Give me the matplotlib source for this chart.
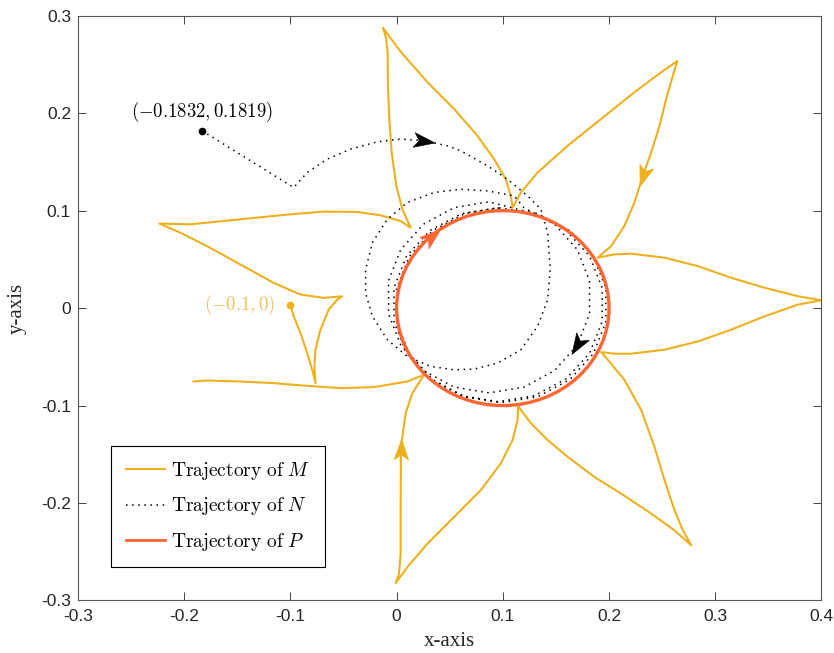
import numpy as np
import matplotlib
matplotlib.use("Agg")
import matplotlib.pyplot as plt
from matplotlib.path import Path
from matplotlib.markers import MarkerStyle
from matplotlib.transforms import Affine2D
from matplotlib.patches import Circle
from matplotlib.lines import Line2D

plt.rcParams['mathtext.fontset'] = 'cm'

# ---- data ----
# trajectory of M (one line per petal edge)
M_x = [-0.1000, -0.0969, -0.0906, -0.0842, -0.0795, -0.0764,
       -0.0774, -0.0764, -0.0717, -0.0639, -0.0559, -0.0512,
       -0.0686, -0.0906, -0.1158, -0.1472, -0.1786, -0.2038, -0.2233,
       -0.1943, -0.1472, -0.1000, -0.0686, -0.0371, -0.0151, 0.0038, 0.0132,
       0.0054, -0.0003, -0.0047, -0.0069, -0.0082, -0.0085, -0.0101, -0.0129,
       0.0038, 0.0290, 0.0541, 0.0761, 0.0918, 0.1028, 0.1075, 0.1092,
       0.1170, 0.1327, 0.1610, 0.1925, 0.2239, 0.2491, 0.2642,
       0.2601, 0.2538, 0.2475, 0.2396, 0.2318, 0.2239, 0.2144, 0.2019, 0.1893,
       0.2050, 0.2208, 0.2522, 0.2837, 0.3151, 0.3465, 0.3780, 0.4000,
       0.3780, 0.3465, 0.3151, 0.2837, 0.2522, 0.2208, 0.2050, 0.1925,
       0.1988, 0.2144, 0.2302, 0.2427, 0.2522, 0.2616, 0.2695, 0.2774,
       0.2616, 0.2396, 0.2113, 0.1861, 0.1610, 0.1422, 0.1264, 0.1170, 0.1144,
       0.1139, 0.1092, 0.0981, 0.0792, 0.0541, 0.0290, 0.0101, -0.0009,
       0.0022, 0.0038, 0.0038, 0.0040, 0.0054, 0.0085, 0.0148, 0.0258,
       0.0101, -0.0214, -0.0528, -0.0842, -0.1158, -0.1472, -0.1786, -0.1912]
M_y = [0.0030, -0.0084, -0.0255, -0.0461, -0.0633, -0.0770,
       -0.0599, -0.0427, -0.0221, -0.0015, 0.0087, 0.0121,
       0.0105, 0.0139, 0.0259, 0.0448, 0.0636, 0.0774, 0.0867,
       0.0859, 0.0911, 0.0962, 0.0990, 0.0986, 0.0952, 0.0893, 0.0825,
       0.1014, 0.1253, 0.1597, 0.1940, 0.2283, 0.2626, 0.2781, 0.2876,
       0.2630, 0.2318, 0.2043, 0.1768, 0.1528, 0.1322, 0.1151, 0.1031,
       0.1186, 0.1391, 0.1665, 0.1940, 0.2215, 0.2420, 0.2534,
       0.2386, 0.2146, 0.1871, 0.1597, 0.1356, 0.1083, 0.0842, 0.0636, 0.0517,
       0.0551, 0.0558, 0.0517, 0.0430, 0.0311, 0.0208, 0.0121, 0.0080,
       0.0036, -0.0084, -0.0221, -0.0342, -0.0427, -0.0468, -0.0468, -0.0451,
       -0.0530, -0.0736, -0.1045, -0.1422, -0.1765, -0.2074, -0.2280, -0.2434,
       -0.2280, -0.2108, -0.1903, -0.1732, -0.1526, -0.1354, -0.1181, -0.1045, -0.1000,
       -0.1147, -0.1353, -0.1593, -0.1868, -0.2143, -0.2417, -0.2657, -0.2822,
       -0.2725, -0.2519, -0.2074, -0.1450, -0.1319, -0.1079, -0.0873, -0.0684,
       -0.0753, -0.0811, -0.0821, -0.0798, -0.0770, -0.0753, -0.0743, -0.0753]

# trajectory of N: straight start, big arc, then loops closing in on P
N_x = [-0.1832, -0.0969,
       -0.0842, -0.0654, -0.0434, -0.0182, 0.0038, 0.0258, 0.0478, 0.0604,
       0.0856, 0.1044, 0.1233, 0.1358, 0.1422,
       0.1446, 0.1422, 0.1327, 0.1170, 0.0950, 0.0729, 0.0541, 0.0321, 0.0101,
       -0.0088, -0.0229, -0.0292, -0.0292, -0.0229, -0.0088, 0.0101, 0.0352,
       0.0604, 0.0856, 0.1107,
       0.1198, 0.1487, 0.1701, 0.1816, 0.1816, 0.1701, 0.1487, 0.1198, 0.0870,
       0.0542, 0.0253, 0.0039, -0.0076, -0.0076, 0.0039, 0.0253, 0.0542, 0.0870,
       0.1295, 0.1595, 0.1817, 0.1935, 0.1935, 0.1817, 0.1595, 0.1295, 0.0955,
       0.0615, 0.0315, 0.0093, -0.0025, -0.0025, 0.0093, 0.0315, 0.0615, 0.0955,
       0.1327, 0.1628, 0.1851, 0.1970, 0.1970, 0.1851, 0.1628, 0.1327, 0.0985,
       0.0643, 0.0342, 0.0119, 0.0000, 0.0000, 0.0119, 0.0342, 0.0643, 0.0985]
N_y = [0.1819, 0.1237,
       0.1391, 0.1528, 0.1631, 0.1706, 0.1734, 0.1717, 0.1665, 0.1614,
       0.1459, 0.1322, 0.1151, 0.1014, 0.0774,
       0.0396, 0.0087, -0.0187, -0.0427, -0.0564, -0.0626, -0.0633, -0.0599, -0.0496,
       -0.0324, -0.0084, 0.0156, 0.0396, 0.0671, 0.0911, 0.1083, 0.1186,
       0.1219, 0.1202, 0.1151,
       0.1031, 0.0861, 0.0600, 0.0281, -0.0061, -0.0380, -0.0641, -0.0811, -0.0870,
       -0.0811, -0.0641, -0.0380, -0.0061, 0.0281, 0.0600, 0.0861, 0.1031, 0.1090,
       0.0970, 0.0797, 0.0533, 0.0208, -0.0138, -0.0463, -0.0727, -0.0900, -0.0960,
       -0.0900, -0.0727, -0.0463, -0.0138, 0.0208, 0.0533, 0.0797, 0.0970, 0.1030,
       0.0970, 0.0796, 0.0530, 0.0204, -0.0144, -0.0470, -0.0736, -0.0910, -0.0970,
       -0.0910, -0.0736, -0.0470, -0.0144, 0.0204, 0.0530, 0.0796, 0.0970, 0.1030]

# trajectory of P: circle
P_center = (0.1, 0.0)
P_radius = 0.1
P_arrow_angle = 132  # degrees, where the arrow sits on the circle

# where the direction arrows sit
M_arrows = [(0.232, 0.137), (0.004, -0.145)]
N_arrows = [(0.026, 0.172), (0.167, -0.046)]

M_start = (-0.1, 0.003)
N_start = (-0.1832, 0.1819)

xticks = [-0.3, -0.2, -0.1, 0, 0.1, 0.2, 0.3, 0.4]
xticklabels = ['-0.3', '-0.2', '-0.1', '0', '0.1', '0.2', '0.3', '0.4']
yticks = [-0.3, -0.2, -0.1, 0, 0.1, 0.2, 0.3]
yticklabels = ['-0.3', '-0.2', '-0.1', '0', '0.1', '0.2', '0.3']

c_M = '#EDB120'
c_P = '#FF6633'

fig = plt.figure(figsize=(8.34, 6.53), dpi=100)
ax = fig.add_axes([0.0935, 0.0804, 0.8915, 0.8956])
ax.set_xlim(-0.3, 0.4)
ax.set_ylim(-0.3, 0.3)

ax.plot(M_x, M_y, color=c_M, lw=1.5, zorder=2, solid_joinstyle='round')
ax.plot(N_x, N_y, color='black', lw=1.1, ls=(0, (1, 3)), zorder=3)
ax.add_patch(Circle(P_center, P_radius, fill=False, ec=c_P, lw=2.4, zorder=4))

# arrowhead marker (notched)
arrow_path = Path([(1, 0), (-1, 0.7), (-0.5, 0), (-1, -0.7), (1, 0)],
                  [Path.MOVETO, Path.LINETO, Path.LINETO, Path.LINETO, Path.CLOSEPOLY])


def draw_arrow(pos, direction, color):
    d0 = ax.transData.transform(pos)
    d1 = ax.transData.transform((pos[0] + direction[0], pos[1] + direction[1]))
    ang = np.degrees(np.arctan2(d1[1] - d0[1], d1[0] - d0[0]))
    m = MarkerStyle(arrow_path, transform=Affine2D().rotate_deg(ang))
    ax.plot(pos[0], pos[1], marker=m, ms=15, color=color, mec=color, mew=0.5,
            ls='none', zorder=6)


def arrow_on_line(xs, ys, loc, color):
    xs = np.asarray(xs)
    ys = np.asarray(ys)
    i = int(np.argmin((xs - loc[0]) ** 2 + (ys - loc[1]) ** 2))
    d = (xs[i + 1] - xs[i - 1], ys[i + 1] - ys[i - 1])
    draw_arrow((xs[i], ys[i]), d, color)


for a in M_arrows:
    arrow_on_line(M_x, M_y, a, c_M)
for a in N_arrows:
    arrow_on_line(N_x, N_y, a, 'black')
phi = np.radians(P_arrow_angle)
p_pos = (P_center[0] + P_radius * np.cos(phi), P_center[1] + P_radius * np.sin(phi))
draw_arrow(p_pos, (np.sin(phi), -np.cos(phi)), c_P)

# start points and labels
ax.plot(*M_start, 'o', color=c_M, ms=4.5, zorder=7)
ax.plot(*N_start, 'o', color='black', ms=4.5, zorder=7)
ax.annotate(r'$(-0.1832,0.1819)$', N_start, xytext=(0, 13.5), textcoords='offset points',
            ha='center', va='center', fontsize=13.5)
ax.annotate(r'$(-0.1,0)$', M_start, xytext=(-11, 0), textcoords='offset points',
            ha='right', va='center', fontsize=13.5, color='#F0C05A')

# axes styling
ax.set_xticks(xticks)
ax.set_xticklabels(xticklabels)
ax.set_yticks(yticks)
ax.set_yticklabels(yticklabels)
ax.tick_params(direction='in', length=5.5, width=0.6, top=True, right=True,
               color='#262626', labelcolor='#262626', labelsize=12.5)
ax.tick_params(axis='x', pad=6)
ax.tick_params(axis='y', pad=5)
for lab in ax.get_xticklabels() + ax.get_yticklabels():
    lab.set_family('Liberation Sans')
for s in ax.spines.values():
    s.set_color('#555555')
    s.set_linewidth(0.8)

ax.set_xlabel('x-axis', family='Liberation Serif', fontsize=15, color='#262626')
ax.set_ylabel('y-axis', family='Liberation Serif', fontsize=15, color='#262626')
ax.xaxis.set_label_coords(0.5, -0.054)
ax.yaxis.set_label_coords(-0.069, 0.5)

handles = [Line2D([], [], color=c_M, lw=1.5),
           Line2D([], [], color='black', lw=1.1, ls=(0, (1, 3))),
           Line2D([], [], color=c_P, lw=2)]
labels = [r'$\mathrm{Trajectory\ of}\ M$', r'$\mathrm{Trajectory\ of}\ N$',
          r'$\mathrm{Trajectory\ of}\ P$']
leg = ax.legend(handles, labels, loc='lower left', bbox_to_anchor=(0.0445, 0.057),
                borderaxespad=0, fontsize=14, fancybox=False, framealpha=1,
                edgecolor='black', handlelength=2.0, handletextpad=0.35,
                borderpad=0.75, labelspacing=0.68)
leg.get_frame().set_linewidth(0.8)

fig.savefig('out.png', dpi=100)
